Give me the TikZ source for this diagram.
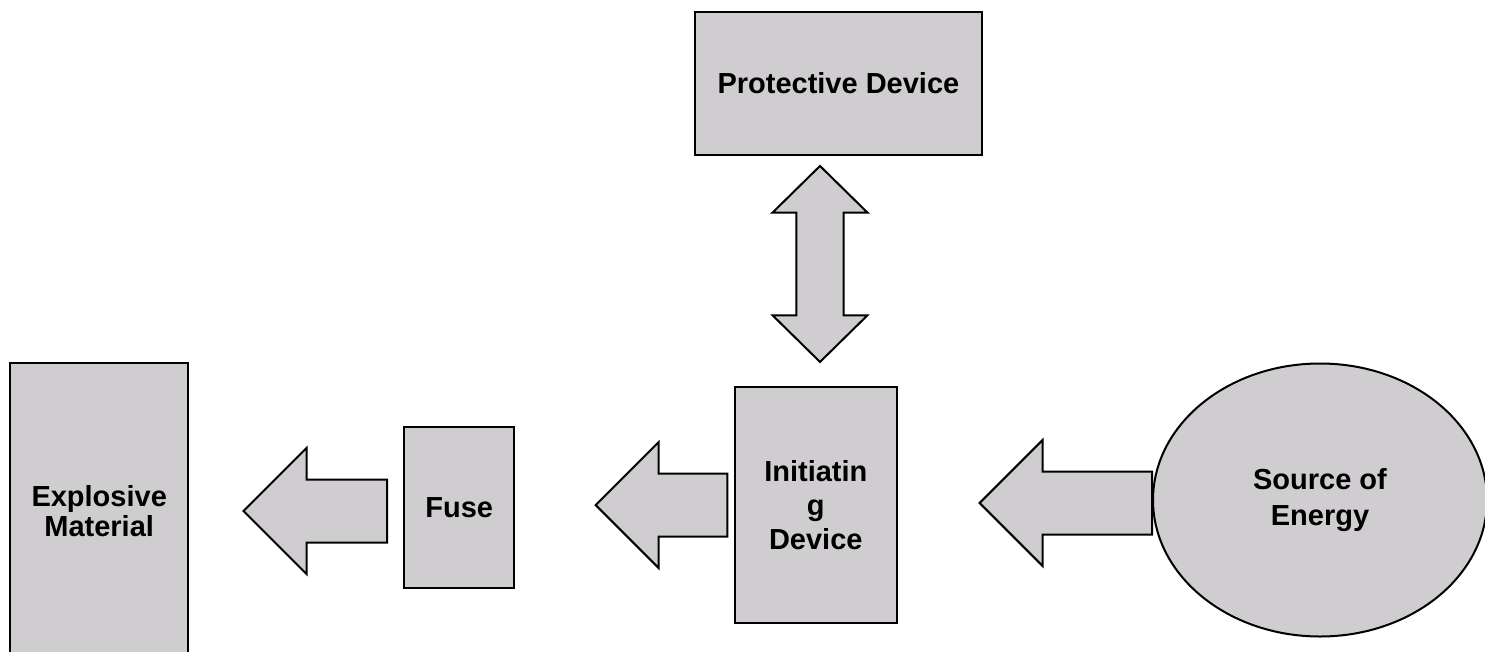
\documentclass[tikz,border=0pt]{standalone}
\usepackage{fontspec}
\setmainfont{Liberation Sans}
\usetikzlibrary{calc,shapes.geometric}
\definecolor{boxgray}{RGB}{207,205,207}

\tikzset{
  unit/.style={draw=black, line width=2pt, fill=boxgray, inner sep=0pt,
    align=center, font=\bfseries\fontsize{29}{34}\selectfont},
  blockarrow/.style={draw=black, line width=2pt, fill=boxgray, line join=miter},
}

\begin{document}
\begin{tikzpicture}[x=1pt,y=-1pt]
\useasboundingbox (0,0) rectangle (1485,651);
\clip (0,0) rectangle (1485,651);

% components of the firing chain
\node[unit, minimum width=286.7pt, minimum height=143.3pt] (prot) at (838.4,83.3) {Protective Device};
\node[unit, minimum width=161.7pt, minimum height=236pt] (init) at (815.8,505.3) {Initiatin\\g\\Device};
\node[unit, minimum width=109.7pt, minimum height=161.6pt] (fuse) at (459.2,507.5) {Fuse};
\node[unit, minimum width=178.3pt, minimum height=296.7pt, font=\bfseries\fontsize{29}{30}\selectfont] (expl) at (99.2,511.6) {Explosive\\Material};
\node[unit, ellipse, minimum width=334pt, minimum height=273pt, font=\bfseries\fontsize{29}{36}\selectfont] (src) at (1320,500) {Source of\\Energy};

% end points of the block arrows
\coordinate (a1tail) at ($(fuse.west)+(-16.3,3.5)$);
\coordinate (a1tip)  at ($(a1tail)+(-143.5,0)$);
\coordinate (a2tail) at ($(init.west)+(-6.7,-0.3)$);
\coordinate (a2tip)  at ($(a2tail)+(-131.6,0)$);
\coordinate (a3tail) at ($(src.west)+(0,3)$);
\coordinate (a3tip)  at ($(a3tail)+(-172.4,0)$);
\coordinate (dtop)   at ($(prot.south)+(-18.4,10)$);
\coordinate (dbot)   at ($(dtop)+(0,196)$);

% left-pointing block arrows: tip, tail
\foreach \tip/\tail in {a1tip/a1tail, a2tip/a2tail, a3tip/a3tail}{
  \draw[blockarrow] let \p1=(\tip), \p2=(\tail) in
    (\x1,\y1) -- (\x1+63pt,\y1+63pt) -- (\x1+63pt,\y1+31.5pt) -- (\x2,\y1+31.5pt)
    -- (\x2,\y1-31.5pt) -- (\x1+63pt,\y1-31.5pt) -- (\x1+63pt,\y1-63pt) -- cycle;
}

% two-way arrow between protective and initiating device
\draw[blockarrow] let \p1=(dtop), \p2=(dbot) in
  (\x1,\y1) -- (\x1+47.5pt,\y1-46.7pt) -- (\x1+23.7pt,\y1-46.7pt)
  -- (\x1+23.7pt,\y2+46.7pt) -- (\x1+47.5pt,\y2+46.7pt) -- (\x2,\y2)
  -- (\x1-47.5pt,\y2+46.7pt) -- (\x1-23.7pt,\y2+46.7pt)
  -- (\x1-23.7pt,\y1-46.7pt) -- (\x1-47.5pt,\y1-46.7pt) -- cycle;
\end{tikzpicture}
\end{document}
